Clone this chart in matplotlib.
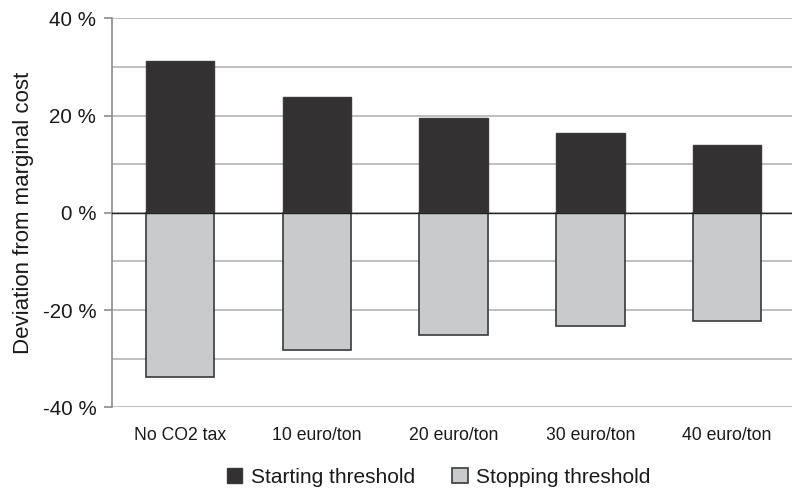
import matplotlib.pyplot as plt
import matplotlib.ticker as mticker
import numpy as np

categories = ['No CO2 tax', '10 euro/ton', '20 euro/ton', '30 euro/ton', '40 euro/ton']
starting = [31.2, 23.9, 19.6, 16.5, 13.9]
stopping = [-33.8, -28.2, -25.2, -23.3, -22.2]

plt.rcParams['font.family'] = 'Liberation Sans'

fig = plt.figure(figsize=(7.92, 4.91), dpi=100)
ax = fig.add_axes([0.1409, 0.1705, 0.8636, 0.7922])

x = np.arange(len(categories))
ax.bar(x, starting, width=0.5, color='#333132', edgecolor='#3a3a3a', linewidth=1.0,
       label='Starting threshold', zorder=3)
ax.bar(x, stopping, width=0.5, color='#c9cacc', edgecolor='#3a3a3a', linewidth=1.2,
       label='Stopping threshold', zorder=3)

ax.set_xlim(-0.5, len(categories) - 0.5)
ax.set_ylim(-40, 40)
ax.yaxis.set_major_locator(mticker.MultipleLocator(20))
ax.yaxis.set_minor_locator(mticker.MultipleLocator(10))
ax.yaxis.set_major_formatter(mticker.FuncFormatter(lambda v, p: f'{v:.0f} %'))

ax.grid(axis='y', which='both', color='#b4b4b4', linewidth=1.2, zorder=0)
ax.axhline(0, color='#222222', linewidth=1.0, zorder=4)

for s in ['top', 'right', 'bottom']:
    ax.spines[s].set_visible(False)
ax.spines['left'].set_color('#8c8c8c')
ax.spines['left'].set_linewidth(1.2)

ax.tick_params(axis='y', which='major', length=6, width=1.2, color='#8c8c8c',
               labelsize=14.8, pad=5, labelcolor='#1a1a1a')
ax.tick_params(axis='y', which='minor', length=0)
ax.tick_params(axis='x', length=0, labelsize=12.7, pad=14, labelcolor='#1a1a1a')
ax.set_xticks(x)
ax.set_xticklabels(categories)

ax.set_ylabel('Deviation from marginal cost', fontsize=16, color='#1a1a1a', labelpad=6)

ax.legend(loc='center', bbox_to_anchor=(0.554, 0.028), bbox_transform=fig.transFigure,
          ncol=2, frameon=False, fontsize=15, handlelength=0.75, handleheight=0.75,
          handletextpad=0.4, columnspacing=1.8, labelcolor='#1a1a1a')

fig.savefig('out.png', dpi=100)
